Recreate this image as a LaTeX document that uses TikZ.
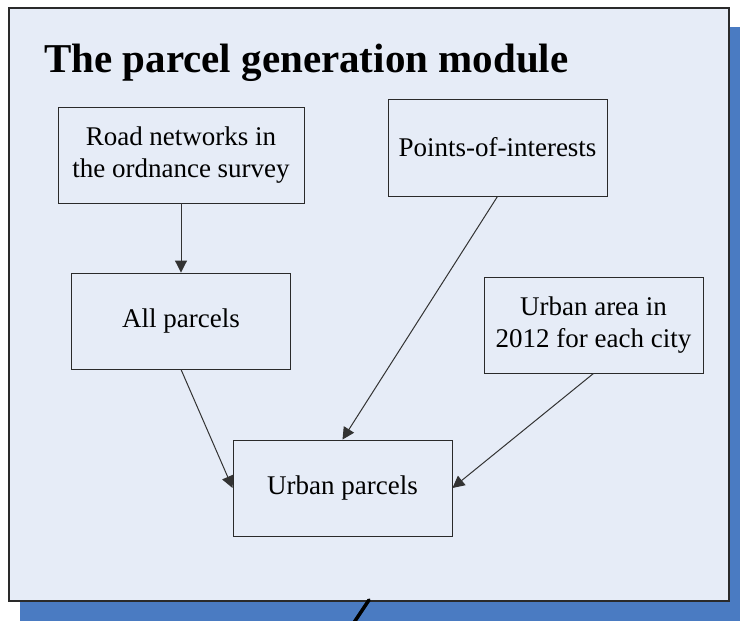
\documentclass[tikz,border=0pt]{standalone}
\usepackage{fontspec}
\setmainfont{Liberation Serif}
\usetikzlibrary{arrows.meta}
\definecolor{panelfill}{HTML}{E6ECF7}
\definecolor{shadowblue}{HTML}{4A7BC2}
\definecolor{edgegray}{HTML}{2A2A2A}
\tikzset{
  stepbox/.style={draw=edgegray, line width=0.9pt, fill=panelfill, inner sep=0pt,
    align=center, font=\fontsize{27}{32}\selectfont},
  flow/.style={draw=black!80, line width=1pt, -{Triangle[length=12pt,width=12pt]}}
}
\begin{document}
\begin{tikzpicture}[x=1pt, y=-1pt]
  \useasboundingbox (0,0) rectangle (740,621);
  \clip (0,0) rectangle (740,621);
  % drop shadow and module panel
  \fill[shadowblue] (20,27) rectangle (745,626);
  \draw[fill=panelfill, draw=edgegray, line width=1.4pt] (9,8) rectangle (729,601);
  \node[anchor=base west, inner sep=0pt, font=\fontsize{41}{48}\selectfont\bfseries]
    (title) at (44,72) {The parcel generation module};
  % data sources and products
  \node[stepbox, minimum width=246pt, minimum height=96pt] (road) at (181,155)
    {Road networks in\\the ordnance survey};
  \node[stepbox, minimum width=219pt, minimum height=96pt] (all) at (181,321)
    {All parcels};
  \node[stepbox, minimum width=219pt, minimum height=97pt] (poi) at (497.5,147.5)
    {Points-of-interests};
  \node[stepbox, minimum width=219pt, minimum height=96pt] (area) at (593.5,325)
    {Urban area in\\2012 for each city};
  \node[stepbox, minimum width=219pt, minimum height=96pt] (urban) at (342.5,488)
    {Urban parcels};
  % processing flow
  \draw[flow] (road.south) -- (all.north);
  \draw[flow] (all.south) -- (urban.west);
  \draw[flow] (poi.south) -- (urban.north);
  \draw[flow] (area.south) -- (urban.east);
  % stroke below the panel
  \coordinate (s1) at (369,600);
  \coordinate (s2) at (351,627);
  \draw[black, line width=3.5pt, line cap=round] (s1) -- (s2);
\end{tikzpicture}
\end{document}
